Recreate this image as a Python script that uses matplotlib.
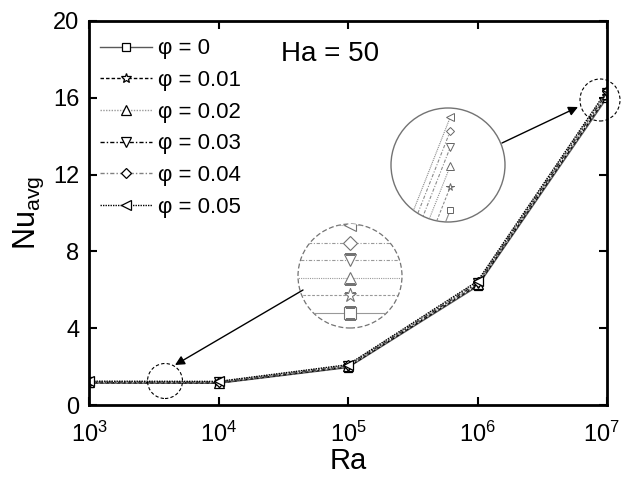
import numpy as np
import matplotlib
matplotlib.use("Agg")
import matplotlib.pyplot as plt
from matplotlib.patches import Circle, Ellipse, FancyArrowPatch
from matplotlib.transforms import ScaledTranslation

plt.rcParams['font.family'] = ['Liberation Sans', 'DejaVu Sans']
plt.rcParams['mathtext.default'] = 'regular'

ra = [1e3, 1e4, 1e5, 1e6, 1e7]
phi_labels = ['φ = 0', 'φ = 0.01', 'φ = 0.02', 'φ = 0.03', 'φ = 0.04', 'φ = 0.05']
nu_phi0 = [1.14, 1.13, 1.95, 6.18, 16.00]
nu_phi1 = [1.16, 1.15, 1.98, 6.24, 16.10]
nu_phi2 = [1.18, 1.17, 2.01, 6.30, 16.19]
nu_phi3 = [1.20, 1.19, 2.04, 6.35, 16.27]
nu_phi4 = [1.22, 1.21, 2.07, 6.40, 16.34]
nu_phi5 = [1.24, 1.23, 2.10, 6.45, 16.40]
series = [nu_phi0, nu_phi1, nu_phi2, nu_phi3, nu_phi4, nu_phi5]

# style per phi: (linestyle, line colour, marker, marker size)
styles = [
    ('-', '0.35', 's', 6),
    ((0, (2.5, 1.5)), 'black', '*', 7),
    ((0, (1, 1)), '0.6', '^', 6.5),
    ((0, (3, 1.5, 1, 1.5)), 'black', 'v', 6.5),
    ((0, (3, 1.5, 1, 1.5)), '0.5', 'D', 5),
    ((0, (1, 0.8)), 'black', '<', 6.5),
]

fig = plt.figure(figsize=(6.23, 4.8), dpi=100)
ax = fig.add_axes([89 / 623, 1 - 405 / 480, 518 / 623, 384 / 480])

for nu, lab, (ls, col, mk, ms) in zip(series, phi_labels, styles):
    ax.plot(ra, nu, linestyle=ls, color=col, lw=1.0, marker=mk, ms=ms,
            mfc='white', mec='black', mew=0.9, label=lab)

ax.set_xscale('log')
ax.set_xlim(1e3, 1e7)
ax.set_ylim(0, 20)
ax.set_xticks(ra)
ax.set_yticks([0, 4, 8, 12, 16, 20])
ax.minorticks_off()
ax.tick_params(direction='in', length=6, width=1.5, labelsize=17, top=True, right=True)
ax.tick_params(axis='x', pad=12)
ax.tick_params(axis='y', pad=7)
for sp in ax.spines.values():
    sp.set_linewidth(2)
ax.set_xlabel('Ra', fontsize=21, labelpad=0)
ax.set_ylabel('Nu$_{avg}$', fontsize=22, labelpad=5)

# nudge the last x tick label inward so it stays on the canvas
fig.canvas.draw()
last = ax.get_xticklabels()[-1]
last.set_transform(last.get_transform() + ScaledTranslation(-6 / 100, 0, fig.dpi_scale_trans))

ax.legend(loc='upper left', bbox_to_anchor=(0.005, 0.978), frameon=False, fontsize=16,
          handlelength=2.3, handletextpad=0.3, labelspacing=0.48, borderaxespad=0)
ax.text(0.465, 0.915, 'Ha = 50', transform=ax.transAxes, fontsize=20, ha='center', va='center')

W, H = 623, 480

def fig_box(cx, cy, r):
    return [(cx - r) / W, 1 - (cy + r) / H, 2 * r / W, 2 * r / H]

# upper magnified view near Ra = 1e7
ins1 = fig.add_axes(fig_box(448, 165, 57))
clip1 = Circle((0.5, 0.5), 0.5, transform=ins1.transAxes, facecolor='none')
for nu, (ls, col, mk, ms) in zip(series, styles):
    ln, = ins1.plot(ra[3:], nu[3:], linestyle=ls, color='0.55', lw=0.8, marker=mk, ms=ms * 0.8,
                    mfc='white', mec='0.4', mew=0.7)
    ln.set_clip_path(clip1)
ins1.set_xscale('log')
ins1.set_xlim(10 ** 6.935, 10 ** 7.06)
ins1.set_ylim(15.949, 16.439)
ins1.axis('off')
ins1.add_patch(Circle((0.5, 0.5), 0.5, transform=ins1.transAxes, fill=False,
                      edgecolor='0.45', lw=1.0, clip_on=False))

# lower magnified view near Ra = 4e3
ins2 = fig.add_axes(fig_box(350, 276, 52))
clip2 = Circle((0.5, 0.5), 0.5, transform=ins2.transAxes, facecolor='none')
ra_mid = np.sqrt(ra[0] * ra[1])
for nu, (ls, col, mk, ms) in zip(series, styles):
    xs = [ra[0], ra_mid, ra[1]]
    ys = [nu[0], nu[0], nu[0]]
    ln, = ins2.plot(xs, ys, linestyle=ls, color='0.6', lw=0.8, marker=mk, ms=ms * 1.4,
                    markevery=[1], mfc='white', mec='0.45', mew=0.8)
    ln.set_clip_path(clip2)
ins2.set_xscale('log')
ins2.set_xlim(10 ** 3.1, 10 ** 3.9)
ins2.set_ylim(1.123, 1.241)
ins2.axis('off')
ins2.add_patch(Circle((0.5, 0.5), 0.5, transform=ins2.transAxes, fill=False,
                      edgecolor='0.45', lw=0.9, ls=(0, (4, 2)), clip_on=False))

# small dashed circles marking the zoomed spots
fig.add_artist(Ellipse((600 / W, 1 - 100 / H), 40 / W, 42 / H, transform=fig.transFigure,
                       fill=False, ec='black', lw=0.8, ls=(0, (3, 2))))
fig.add_artist(Ellipse((165 / W, 1 - 381 / H), 35 / W, 35 / H, transform=fig.transFigure,
                       fill=False, ec='black', lw=0.8, ls=(0, (3, 2))))

# arrows
for (x0, y0), (x1, y1) in [((502, 143), (578, 107)), ((303, 290), (175, 365))]:
    fig.add_artist(FancyArrowPatch((x0 / W, 1 - y0 / H), (x1 / W, 1 - y1 / H),
                                   transform=fig.transFigure, arrowstyle='-|>',
                                   mutation_scale=14, color='black', lw=1.0,
                                   shrinkA=0, shrinkB=0))

fig.savefig('out.png', dpi=100)
